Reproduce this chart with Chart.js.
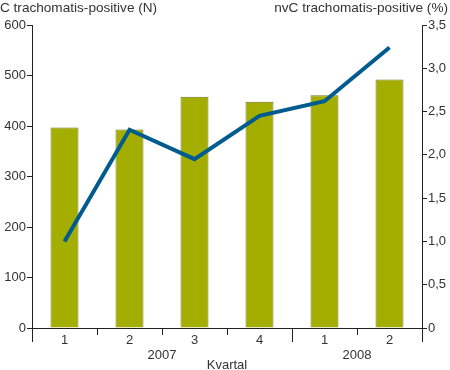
<!DOCTYPE html>
<html>
<head>
<meta charset="utf-8">
<script src="https://cdn.jsdelivr.net/npm/chart.js@4.4.1/dist/chart.umd.min.js"></script>
<style>
  html, body { margin: 0; padding: 0; background: #fff; }
  #wrap { width: 450px; height: 370px; position: relative; }
</style>
</head>
<body>
<div id="wrap"><canvas id="myChart"></canvas></div>
<script>
// quarters and years
var quarters = ["1", "2", "3", "4", "1", "2"];
var years = ["2007", "2007", "2007", "2007", "2008", "2008"];

// C trachomatis-positive (N)
var positiveN = [397, 393, 458, 448, 461, 492];
// nvC trachomatis-positive (%)
var positivePct = [1.0, 2.29, 1.95, 2.45, 2.62, 3.24];

var axisColor = "#222";
var textColor = "#333";
var fontFamily = "'Liberation Sans', Arial, sans-serif";

var extras = {
    id: "extras",
    afterDraw: function(chart) {
        var c = chart.ctx;
        var x = chart.scales.x;
        var area = chart.chartArea;
        var bottom = area.bottom;
        c.save();
        c.strokeStyle = axisColor;
        c.lineWidth = 1;

        // tick marks between quarters, longer at year boundaries
        for (var i = 0; i <= quarters.length; i++) {
            var px;
            if (i == 0) px = area.left;
            else if (i == quarters.length) px = area.right;
            else px = (x.getPixelForValue(i - 1) + x.getPixelForValue(i)) / 2;
            var yearEdge = (i == 0 || i == quarters.length || years[i] != years[i - 1]);
            c.beginPath();
            c.moveTo(Math.round(px) + 0.5, bottom);
            c.lineTo(Math.round(px) + 0.5, bottom + (yearEdge ? 14 : 7));
            c.stroke();
        }

        // year labels centered under their quarters
        c.fillStyle = textColor;
        c.font = "13px " + fontFamily;
        c.textAlign = "center";
        c.textBaseline = "middle";
        var start = 0;
        for (var j = 1; j <= years.length; j++) {
            if (j == years.length || years[j] != years[start]) {
                var mid = (x.getPixelForValue(start) + x.getPixelForValue(j - 1)) / 2;
                c.fillText(years[start], mid, bottom + 27);
                start = j;
            }
        }
        c.fillText("Kvartal", (area.left + area.right) / 2, bottom + 37);

        // axis titles on top
        c.font = "13.6px " + fontFamily;
        c.textAlign = "left";
        c.fillText("C trachomatis-positive (N)", 0, 8);
        c.textAlign = "right";
        c.fillText("nvC trachomatis-positive (%)", 448, 8);
        c.restore();
    }
};

var ctx = document.getElementById("myChart");

var myChart = new Chart(ctx, {
    type: "bar",
    data: {
        labels: quarters,
        datasets: [
            {
                type: "line",
                data: positivePct,
                yAxisID: "y2",
                borderColor: "#005b8f",
                borderWidth: 4,
                pointRadius: 0,
                tension: 0,
                order: 1
            },
            {
                type: "bar",
                data: positiveN,
                yAxisID: "y",
                backgroundColor: "#a4ae00",
                borderColor: "#6f7419",
                borderWidth: 1,
                barPercentage: 0.43,
                categoryPercentage: 1,
                order: 2
            }
        ]
    },
    options: {
        responsive: true,
        maintainAspectRatio: false,
        animation: false,
        layout: { padding: { top: 25, left: 0, right: 0, bottom: 0 } },
        plugins: {
            legend: { display: false },
            tooltip: { enabled: false }
        },
        scales: {
            x: {
                grid: { display: false, drawTicks: false },
                border: { display: true, color: axisColor, width: 1 },
                ticks: {
                    color: textColor,
                    font: { size: 13, family: fontFamily },
                    padding: 5,
                    maxRotation: 0
                },
                afterFit: function(scale) { scale.height = 42; }
            },
            y: {
                position: "left",
                min: 0,
                max: 600,
                grid: { drawOnChartArea: false, color: axisColor, tickLength: 5 },
                border: { display: true, color: axisColor, width: 1 },
                ticks: {
                    stepSize: 100,
                    color: textColor,
                    padding: 1,
                    font: { size: 13, family: fontFamily }
                },
                afterFit: function(scale) { scale.width = 32; }
            },
            y2: {
                position: "right",
                min: 0,
                max: 3.5,
                grid: { drawOnChartArea: false, color: axisColor, tickLength: 5 },
                border: { display: true, color: axisColor, width: 1 },
                ticks: {
                    stepSize: 0.5,
                    color: textColor,
                    padding: 1,
                    font: { size: 13, family: fontFamily },
                    callback: function(v) {
                        return v === 0 ? "0" : v.toFixed(1).replace(".", ",");
                    }
                },
                afterFit: function(scale) { scale.width = 28; }
            }
        }
    },
    plugins: [extras]
});
</script>
</body>
</html>
